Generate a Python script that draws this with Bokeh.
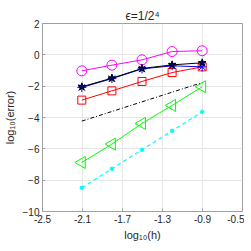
import math
from bokeh.plotting import figure
from bokeh.models import FixedTicker, Range1d, Title
from bokeh.embed import file_html
from bokeh.resources import INLINE

# data (log10 h vs log10 error)
h_log = [-2.107, -1.806, -1.505, -1.204, -0.903]
err_magenta = [-1.02, -0.66, -0.32, 0.21, 0.26]
err_black = [-2.04, -1.49, -0.87, -0.64, -0.51]
err_blue = [-2.08, -1.52, -0.90, -0.70, -0.77]
err_red = [-2.89, -2.30, -1.70, -1.13, -0.77]
err_green = [-6.87, -5.70, -4.38, -3.23, -2.04]
err_cyan = [-8.49, -7.27, -6.06, -4.85, -3.64]
ref_x = [-2.107, -0.903]
ref_y = [-4.23, -1.77]
x_ticks = [-2.5, -2.1, -1.7, -1.3, -0.9, -0.5]
y_ticks = [2, 0, -2, -4, -6, -8, -10]

FONT = "Liberation Sans"
AX = "#a0a0a0"
TXT = "#262626"

p = figure(frame_width=200, frame_height=188, output_backend="svg", toolbar_location=None,
           x_range=Range1d(-2.5, -0.5), y_range=Range1d(-10, 2),
           min_border_left=37, min_border_right=2, min_border_top=23, min_border_bottom=5)
p.title = Title(text="ϵ=1/2⁴", align="center", text_font=FONT, text_font_size="12px",
                text_font_style="normal", text_color=TXT, standoff=2)
p.background_fill_color = "white"
p.border_fill_color = "white"
p.outline_line_color = AX

for ax in p.xaxis + p.yaxis:
    ax.axis_line_color = AX
    ax.major_tick_line_color = AX
    ax.minor_tick_line_color = None
    ax.major_tick_in = 3
    ax.major_tick_out = 0
    ax.major_label_text_font = FONT
    ax.major_label_text_font_size = "10px"
    ax.major_label_text_color = TXT
    ax.axis_label_text_font = FONT
    ax.axis_label_text_font_size = "11px"
    ax.axis_label_text_font_style = "normal"
    ax.axis_label_text_color = TXT

p.xaxis.ticker = FixedTicker(ticks=x_ticks)
p.yaxis.ticker = FixedTicker(ticks=y_ticks)
p.xaxis.major_label_overrides = {v: ("%g" % v) for v in x_ticks}
p.xaxis.axis_label = "log₁₀(h)"
p.yaxis.axis_label = "log₁₀(error)"
p.xaxis.axis_label_standoff = 3
p.yaxis.axis_label_standoff = 4
p.xaxis.major_label_standoff = 3
p.yaxis.major_label_standoff = 3

p.xgrid.ticker = FixedTicker(ticks=x_ticks)
p.ygrid.ticker = FixedTicker(ticks=y_ticks)
p.grid.grid_line_color = "#e6e6e6"
p.grid.grid_line_width = 1

# magenta circles
p.line(h_log, err_magenta, line_color="#ff00ff", line_width=1)
p.scatter(h_log, err_magenta, marker="circle", size=10, fill_color=None,
          line_color="#ff00ff", line_width=1)
# red squares
p.line(h_log, err_red, line_color="#ff0000", line_width=1)
p.scatter(h_log, err_red, marker="square", size=8, fill_color=None,
          line_color="#ff0000", line_width=1)
# blue asterisks
p.line(h_log, err_blue, line_color="#0000ff", line_width=1)
p.scatter(h_log, err_blue, marker="asterisk", size=9, line_color="#0000ff", line_width=1)
# black hexagrams
p.line(h_log, err_black, line_color="black", line_width=1)
p.scatter(h_log, err_black, marker="star", size=8, fill_color="#000080",
          line_color="black", line_width=1)
# reference slope line
p.line(ref_x, ref_y, line_color="black", line_width=1, line_dash="4 2 1 2")
# green left triangles
p.line(h_log, err_green, line_color="#00ff00", line_width=1)
p.scatter(h_log, err_green, marker="triangle", size=12, angle=math.pi / 2,
          fill_color=None, line_color="#00ff00", line_width=1)
# cyan dashed with dots
p.line(h_log, err_cyan, line_color="#00ffff", line_width=1.2, line_dash="4 3")
p.scatter(h_log, err_cyan, marker="circle", size=3.5, fill_color="#00ffff",
          line_color="#00ffff")

open("out.html", "w").write(file_html(p, INLINE))
